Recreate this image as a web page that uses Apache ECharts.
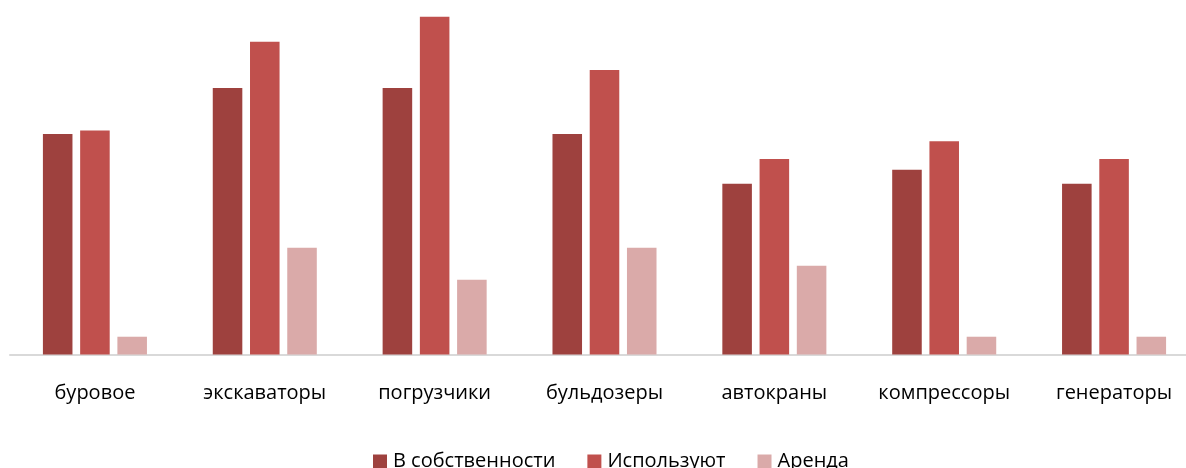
<!DOCTYPE html>
<html><head><meta charset="utf-8">
<script src="https://cdn.jsdelivr.net/npm/echarts@6/dist/echarts.min.js"></script>
<style>html,body{margin:0;padding:0;background:#fff;overflow:hidden;width:1186px;height:468px}#c{width:1199px;height:468px}</style>
</head><body><div id="c"></div>
<script>
const categories = ['буровое','экскаваторы','погрузчики','бульдозеры','автокраны','компрессоры','генераторы'];
const owned = [62, 75, 75, 62, 48, 52, 48];
const used = [63, 88, 95, 80, 55, 60, 55];
const rent = [5, 30, 21, 30, 25, 5, 5];
const seriesNames = ['В собственности','Используют','Аренда'];
const colors = ['#9E413E','#C0504D','#DAAAA9'];

const chart = echarts.init(document.getElementById('c'), null, {renderer:'canvas'});
const font = 'Open Sans';
chart.setOption({
  animation:false,
  color: colors,
  grid:{left:10, right:0, top:-1, height:355.5, outerBoundsMode:'none'},
  legend:{
    left:368, top:446.5, itemWidth:14, itemHeight:14, itemGap:32,
    icon:'rect',
    textStyle:{fontFamily:font, fontSize:20, color:'#000', padding:[2,0,0,1]},
    data: seriesNames
  },
  xAxis:{
    type:'category', data:categories,
    axisLine:{lineStyle:{color:'#D9D9D9', width:2}},
    axisTick:{show:false},
    axisLabel:{fontFamily:font, fontSize:20, color:'#000', margin:29, interval:0, hideOverlap:false}
  },
  yAxis:{type:'value', min:0, max:100, show:false, splitLine:{show:false}},
  series:[
    {name:seriesNames[0], type:'bar', data:owned, barWidth:'17.4%', barGap:'26%'},
    {name:seriesNames[1], type:'bar', data:used, barWidth:'17.4%', barGap:'26%'},
    {name:seriesNames[2], type:'bar', data:rent, barWidth:'17.4%', barGap:'26%'}
  ]
});
</script></body></html>
